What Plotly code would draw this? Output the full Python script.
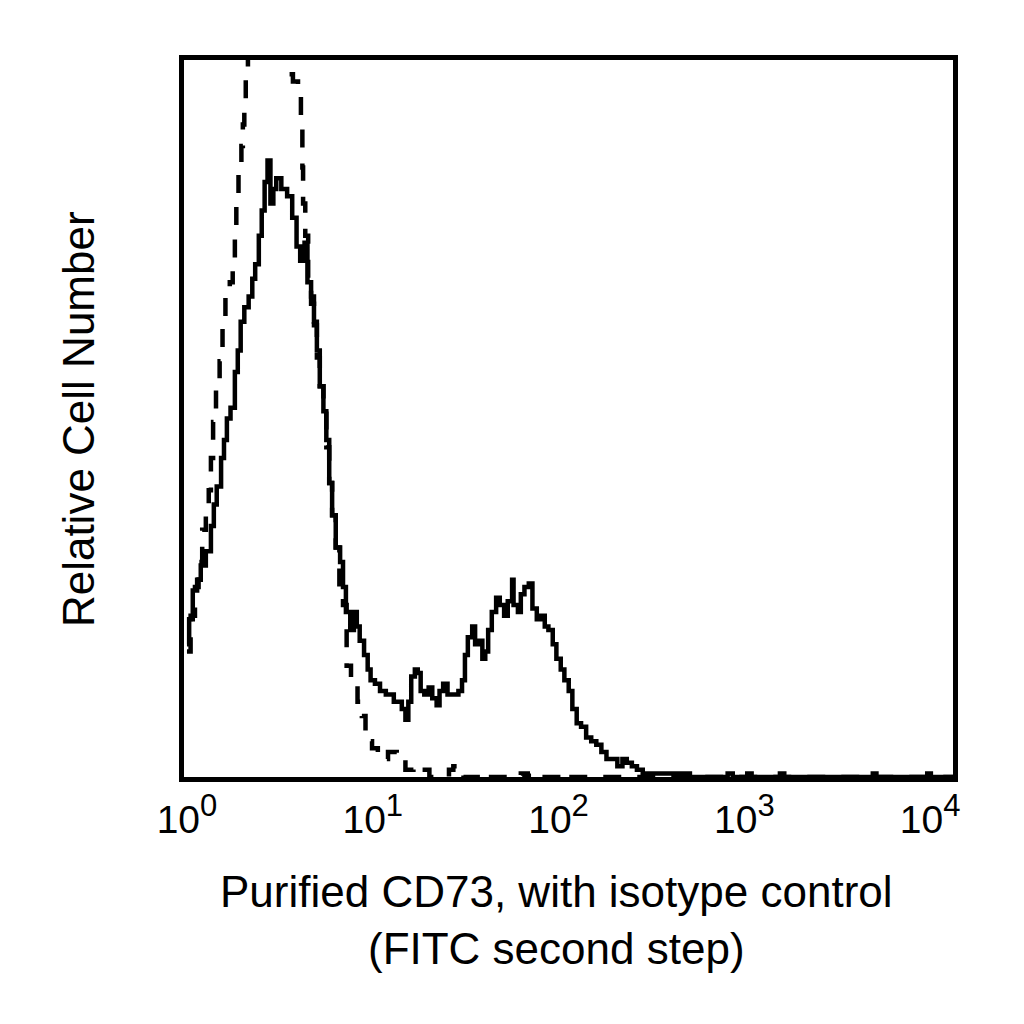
#!/usr/bin/env python3
"""
Flow cytometry overlay: purified CD73 vs isotype control (FITC second step).
Histogram data read off the original figure, stored as channel (0-1024, 4 decades)
and relative cell counts.
"""
import plotly.graph_objects as go

# CD73 stained sample (solid line)
cd73_channel = [0, 3, 8, 14, 19, 26, 33, 37, 41, 47, 51, 55, 60, 66, 70, 74, 79, 85,
                90, 94, 99, 103, 107, 111, 115, 119, 123, 130, 138, 145, 151, 156,
                162, 166, 171, 175, 179, 183, 188, 192, 196, 200, 205, 211, 215, 219,
                225, 230, 234, 238, 244, 249, 253, 259, 266, 274, 285, 296, 301, 305,
                309, 314, 318, 322, 327, 333, 338, 344, 348, 353, 359, 367, 374, 379,
                383, 387, 393, 397, 402, 407, 411, 415, 420, 426, 431, 437, 442, 448,
                450, 456, 460, 465, 471, 476, 482, 487, 493, 498, 504, 509, 515, 520,
                526, 531, 537, 543, 550, 557, 564, 571, 578, 585, 593, 600, 606, 613,
                620, 628, 638, 693, 745, 752, 772, 778, 817, 823, 945, 950, 1020, 1025,
                1060]
cd73_count = [37, 44, 52, 55, 59, 63, 70, 76, 81, 89, 94, 100, 103, 113, 119, 127, 131, 134,
              139, 143, 151, 158, 166, 172, 160, 164, 167, 164, 162, 156, 148, 144,
              149, 138, 134, 127, 119, 109, 102, 94, 82, 73, 64, 60, 53, 46,
              41, 46, 42, 38, 34, 30, 27, 26, 24, 23, 21, 19, 16, 21,
              28, 30, 29, 24, 23, 25, 22, 20, 24, 26, 23, 23, 24, 27,
              34, 39, 42, 37, 38, 33, 35, 41, 46, 50, 48, 45, 49, 55,
              48, 46, 51, 53, 54, 47, 44, 45, 42, 41, 37, 33, 30, 27,
              24, 19, 15, 14, 11, 10, 9, 7, 5, 5, 3, 5, 4, 3,
              2, 1, 1, 0, 1, 0, 1, 0, 1, 0, 1, 0, 1, 0,
              0]

# isotype control (dashed line), peak runs off the top of the plot
iso_channel = [0, 5, 11, 16, 21, 26, 30, 33, 36, 40, 45, 49, 53, 59, 63, 66, 68, 71,
               75, 77, 79, 81, 84, 90, 104, 115, 141, 146, 153, 157, 159, 160, 163,
               167, 171, 175, 179, 183, 188, 192, 196, 200, 205, 210, 215, 220, 226,
               235, 241, 246, 255, 263, 277, 289, 301, 312, 323, 334, 361, 367, 372,
               381, 413, 419, 460, 465, 471, 476, 515, 523, 1060]
iso_count = [35, 45, 53, 60, 69, 73, 80, 89, 99, 109, 116, 126, 134, 138, 142, 151, 160, 171,
             176, 182, 188, 196, 202, 210, 215, 201, 196, 194, 191, 181, 170, 160, 151,
             138, 132, 126, 117, 109, 102, 92, 82, 73, 64, 53, 48, 31, 27,
             21, 17, 10, 8, 5, 7, 5, 2, 3, 2, 0, 2, 3, 2,
             0, 1, 0, 1, 0, 1, 0, 1, 0, 0]

tick_vals = [1, 10, 100, 1000, 10000]
tick_exponents = ["0", "1", "2", "3", "4"]
tick_text = ["10<sup><span style='font-size:31px'>%s</span></sup>" % e
             for e in tick_exponents]

x_title = "Purified CD73, with isotype control<br>(FITC second step)"
y_title = "Relative Cell Number"

CH_PER_DECADE = 256.0
FONT = "Liberation Sans, Arial, sans-serif"

fig = go.Figure()

fig.add_trace(go.Scatter(
    x=[10 ** (c / CH_PER_DECADE) for c in iso_channel],
    y=iso_count,
    mode="lines",
    line=dict(color="black", width=4.5, shape="hv", dash="18px,16px"),
    name="Isotype control",
    showlegend=False,
))

fig.add_trace(go.Scatter(
    x=[10 ** (c / CH_PER_DECADE) for c in cd73_channel],
    y=cd73_count,
    mode="lines",
    line=dict(color="black", width=4.5, shape="hv"),
    name="CD73",
    showlegend=False,
))

fig.update_layout(
    width=1024,
    height=1024,
    margin=dict(l=176, r=79, t=52, b=255),
    plot_bgcolor="white",
    paper_bgcolor="white",
    font=dict(family=FONT, color="black"),
)

fig.update_xaxes(
    type="log",
    range=[-0.016, 4.123],
    tickvals=tick_vals,
    ticktext=tick_text,
    ticks="outside",
    ticklen=4,
    tickcolor="rgba(0,0,0,0)",
    tickfont=dict(size=39),
    showgrid=False,
    zeroline=False,
    showline=True,
    linecolor="black",
    linewidth=5,
    mirror=True,
)

fig.update_yaxes(
    range=[0, 200],
    showticklabels=False,
    ticks="",
    showgrid=False,
    zeroline=False,
    showline=True,
    linecolor="black",
    linewidth=5,
    mirror=True,
)

# axis titles as annotations so they can be placed like the original
fig.add_annotation(
    text=x_title, xref="paper", yref="paper", x=0.484, y=-0.2,
    xanchor="center", yanchor="middle", showarrow=False,
    font=dict(size=44, family=FONT, color="black"),
)
fig.add_annotation(
    text=y_title, xref="paper", yref="paper", x=-0.138, y=0.499,
    xanchor="center", yanchor="middle", textangle=-90, showarrow=False,
    font=dict(size=44, family=FONT, color="black"),
)

fig.write_html("out.html")
